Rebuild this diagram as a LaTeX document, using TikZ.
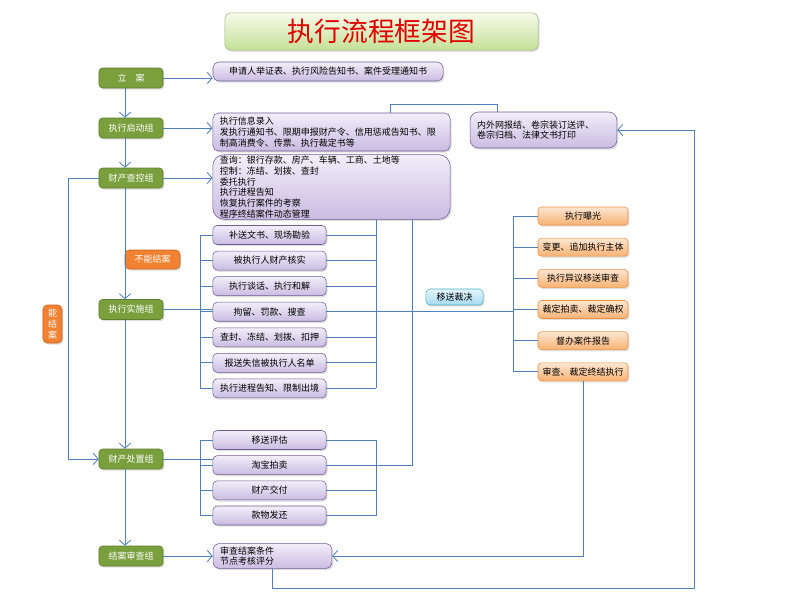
\documentclass[tikz,border=0pt]{standalone}
\usepackage{fontspec}
\newfontfamily\cjk{Noto Sans CJK SC}
\usetikzlibrary{arrows.meta,positioning,shadows}
\definecolor{linec}{RGB}{79,129,189}
\definecolor{grp}{RGB}{122,160,62}
\definecolor{grpline}{RGB}{94,125,45}
\definecolor{doctop}{RGB}{242,238,249}
\definecolor{doc}{RGB}{202,188,226}
\definecolor{docline}{RGB}{112,92,150}
\definecolor{acttop}{RGB}{253,230,210}
\definecolor{act}{RGB}{249,178,115}
\definecolor{actline}{RGB}{240,145,65}
\definecolor{warn}{RGB}{240,130,50}
\definecolor{warnline}{RGB}{200,100,30}
\definecolor{xfertop}{RGB}{228,246,252}
\definecolor{xfer}{RGB}{165,218,240}
\definecolor{xferline}{RGB}{75,172,198}
\definecolor{ttltop}{RGB}{246,251,236}
\definecolor{ttl}{RGB}{196,224,150}
\definecolor{ttlline}{RGB}{160,180,130}
\definecolor{ttltext}{RGB}{225,0,0}

\begin{document}
\begin{tikzpicture}[
      x=0.025cm, y=-0.025cm,
      every node/.style={font=\cjk\fontsize{6.4}{7.6}\selectfont,inner sep=1pt},
      shad/.style={drop shadow={opacity=0.25,shadow xshift=1pt,shadow yshift=-1.2pt}},
      line/.style={draw=linec,line width=0.6pt},
      arr/.style={line,-{Straight Barb[length=3.5pt,width=8pt]}},
      ttlbox/.style={draw=ttlline,top color=ttltop,bottom color=ttl,rounded corners=4pt,
        minimum width=7.83cm,minimum height=0.93cm,text=ttltext,
        font=\cjk\fontsize{19}{22}\selectfont,shad},
      grpbox/.style={draw=grpline,fill=grp,text=white,rounded corners=2.5pt,
        minimum width=1.6cm,minimum height=0.5cm,shad},
      docbox/.style={draw=docline,top color=doctop,bottom color=doc,rounded corners=4pt,
        minimum height=0.475cm,inner xsep=5pt,shad},
      listbox/.style={docbox,minimum width=2.83cm,rounded corners=3pt},
      actbox/.style={draw=actline,top color=acttop,bottom color=act,rounded corners=2.5pt,
        minimum width=2.25cm,minimum height=0.45cm,shad},
      warnbox/.style={draw=warnline,fill=warn,text=white,rounded corners=3pt,
        minimum height=0.475cm,shad},
      xferbox/.style={draw=xferline,top color=xfertop,bottom color=xfer,rounded corners=3pt,
        minimum width=1.43cm,minimum height=0.4cm,shad},
    ]
    \useasboundingbox (0,0) rectangle (800,600);
    %
    \node (ttl) [ttlbox] at (381.5,31.5) {执行流程框架图};
    %
    \node (la) [grpbox] at (131,78) {立\quad 案};
    \node (qd) [grpbox] at (131,128) {执行启动组};
    \node (cc) [grpbox] at (131,178) {财产查控组};
    \node (ss) [grpbox] at (131,309.5) {执行实施组};
    \node (cz) [grpbox] at (131,459) {财产处置组};
    \node (ja) [grpbox] at (131,556) {结案审查组};
    %
    \node (b1) [docbox,minimum width=5.75cm] at (328,71.5)
      {申请人举证表、执行风险告知书、案件受理通知书};
    \node (b2) [docbox,minimum height=0.95cm,text width=5.58cm,align=left] at (331.5,132)
      {执行信息录入\\发执行通知书、限期申报财产令、信用惩戒告知书、限\\制高消费令、传票、执行裁定书等};
    \node (b3) [docbox,minimum height=1.55cm,text width=5.58cm,align=left,rounded corners=8pt] at (331.5,187)
      {查询：银行存款、房产、车辆、工商、土地等\\控制：冻结、划拨、查封\\委托执行\\执行进程告知\\恢复执行案件的考察\\程序终结案件动态管理};
    \node (wb) [docbox,minimum height=0.9cm,text width=3.32cm,align=left,rounded corners=6pt] at (543.5,130)
      {内外网报结、卷宗装订送评、\\卷宗归档、法律文书打印};
    \node (jb) [docbox,minimum height=0.62cm,text width=2.62cm,align=left] at (272.5,556)
      {审查结案条件\\节点考核评分};
    %
    \node (m1) [listbox] at (269.5,235) {补送文书、现场勘验};
    \node (m2) [listbox,below=0.15cm of m1] {被执行人财产核实};
    \node (m3) [listbox,below=0.15cm of m2] {执行谈话、执行和解};
    \node (m4) [listbox,below=0.15cm of m3] {拘留、罚款、搜查};
    \node (m5) [listbox,below=0.15cm of m4] {查封、冻结、划拨、扣押};
    \node (m6) [listbox,below=0.15cm of m5] {报送失信被执行人名单};
    \node (m7) [listbox,below=0.15cm of m6] {执行进程告知、限制出境};
    %
    \node (p1) [listbox] at (269.5,440) {移送评估};
    \node (p2) [listbox,below=0.14cm of p1] {淘宝拍卖};
    \node (p3) [listbox,below=0.14cm of p2] {财产交付};
    \node (p4) [listbox,below=0.14cm of p3] {款物发还};
    %
    \node (o1) [actbox] at (583,216) {执行曝光};
    \node (o2) [actbox,below=0.315cm of o1] {变更、追加执行主体};
    \node (o3) [actbox,below=0.315cm of o2] {执行异议移送审查};
    \node (o4) [actbox,below=0.315cm of o3] {裁定拍卖、裁定确权};
    \node (o5) [actbox,below=0.315cm of o4] {督办案件报告};
    \node (o6) [actbox,below=0.315cm of o5] {审查、裁定终结执行};
    %
    \node (bn) [warnbox,minimum width=1.375cm] at (152.5,259.5) {不能结案};
    \node (nj) [warnbox,minimum width=0.475cm,minimum height=0.95cm,align=center,
      font=\cjk\fontsize{6.4}{7.8}\selectfont] at (52.5,324) {能\\结\\案};
    \node (yc) [xferbox] at (454.5,297) {移送裁决};
    %
    \coordinate (vx) at (125,0);
    \coordinate (lx) at (68,0);
    \coordinate (bx) at (200,0);
    \coordinate (rx) at (376,0);
    \coordinate (sx) at (412,0);
    \coordinate (ux) at (390,0);
    \coordinate (uy) at (0,104);
    \coordinate (tx) at (497,0);
    \coordinate (ox) at (513,0);
    \coordinate (fx) at (694,0);
    \coordinate (fy) at (0,588);
    %
    \draw [arr] (la.south -| vx) -- (qd.north -| vx);
    \draw [arr] (qd.south -| vx) -- (cc.north -| vx);
    \draw [arr] (cc.south -| vx) -- (ss.north -| vx);
    \draw [arr] (ss.south -| vx) -- (cz.north -| vx);
    \draw [arr] (cz.south -| vx) -- (ja.north -| vx);
    %
    \draw [arr] (la.east) -- (la.east -| b1.west);
    \draw [arr] (qd.east) -- (qd.east -| b2.west);
    \draw [arr] (cc.east) -- (cc.east -| b3.west);
    \draw [arr] (ja.east) -- (ja.east -| jb.west);
    \draw [arr] (cc.west) -- (cc.west -| lx) -- (cz.west -| lx) -- (cz.west);
    \draw [line] (b2.north -| ux) -- (ux |- uy) -- (tx |- uy) -- (wb.north -| tx);
    %
    \draw [line] (ss.east) -- (ss.east -| m4.west);
    \draw [line] (m4.east) -- (m4.east -| ox);
    \draw [line] (m1.west -| bx) -- (m7.west -| bx);
    \draw [line] (b3.south -| rx) -- (m7.east -| rx);
    \foreach \i in {1,...,7} {
      \draw [line] (m\i.west) -- (m\i.west -| bx);
      \draw [line] (m\i.east) -- (m\i.east -| rx);
    }
    %
    \draw [line] (o1.west -| ox) -- (o6.west -| ox);
    \foreach \i in {1,...,6}
      \draw [line] (o\i.west) -- (o\i.west -| ox);
    %
    \draw [line] (cz.east) -- (cz.east -| p2.west);
    \draw [line] (p1.west -| bx) -- (p4.west -| bx);
    \draw [line] (p1.east -| rx) -- (p4.east -| rx);
    \foreach \i in {1,...,4} {
      \draw [line] (p\i.west) -- (p\i.west -| bx);
      \draw [line] (p\i.east) -- (p\i.east -| rx);
    }
    \draw [line] (b3.south -| sx) -- (p2.east -| sx) -- (p2.east -| rx);
    %
    \draw [arr] (o6.south) |- (jb.east);
    \draw [arr] (jb.south) -- (jb.south |- fy) -| (wb.east -| fx) -- (wb.east);
    %
  \end{tikzpicture}
\end{document}
